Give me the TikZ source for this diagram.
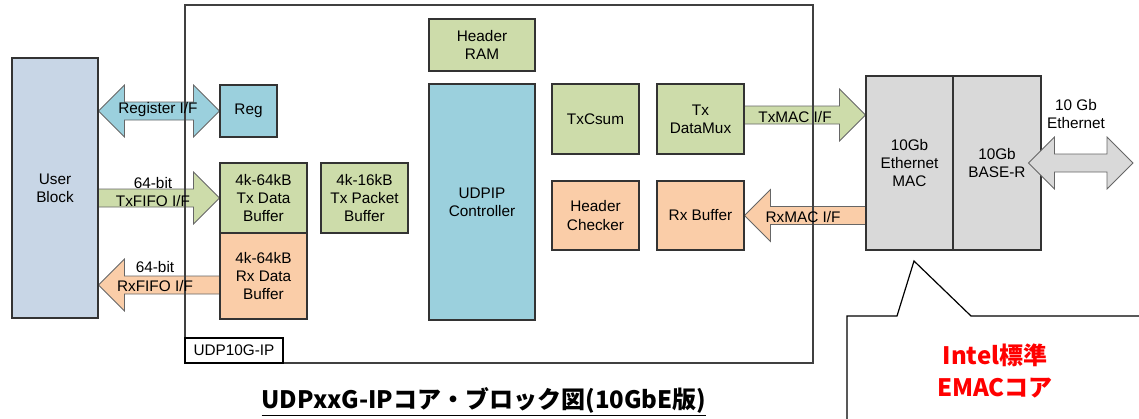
\documentclass[tikz,border=0pt]{standalone}
\usepackage{fontspec}
\setmainfont{Liberation Sans}
\newfontfamily\jpfont{Noto Sans CJK JP}
\usetikzlibrary{calc,backgrounds}

\definecolor{blkgreen}{RGB}{205,220,170}
\definecolor{blkorange}{RGB}{250,205,168}
\definecolor{blkcyan}{RGB}{155,208,221}
\definecolor{blkuser}{RGB}{200,214,230}
\definecolor{blkgray}{RGB}{217,217,217}

\tikzset{
  blk/.style={draw=black!80, line width=0.8pt, align=center, inner sep=0pt,
    font=\fontsize{11.5}{13.75}\selectfont},
  lbl/.style={inner sep=0pt, align=center, font=\fontsize{11.5}{13.75}\selectfont},
  % fat one-headed arrow, start and end on the same level
  fatone/.style={draw=black!60, line width=0.6pt, fill=#1,
    to path={let \p1=(\tikztostart), \p2=(\tikztotarget),
      \n1={ifthenelse(\x2>\x1,1,-1)} in
      -- (\x1,{\y1+6.75pt}) -- ({\x2-\n1*19.5pt},{\y1+6.75pt})
      -- ({\x2-\n1*19.5pt},{\y1+19.5pt}) -- (\x2,\y1)
      -- ({\x2-\n1*19.5pt},{\y1-19.5pt}) -- ({\x2-\n1*19.5pt},{\y1-6.75pt})
      -- (\x1,{\y1-6.75pt}) -- cycle}},
  % fat two-headed arrow
  fattwo/.style={draw=black!60, line width=0.6pt, fill=#1,
    to path={let \p1=(\tikztostart), \p2=(\tikztotarget),
      \n1={ifthenelse(\x2>\x1,1,-1)} in
      -- ({\x1+\n1*19.5pt},{\y1+19.5pt}) -- ({\x1+\n1*19.5pt},{\y1+6.75pt})
      -- ({\x2-\n1*19.5pt},{\y1+6.75pt}) -- ({\x2-\n1*19.5pt},{\y1+19.5pt})
      -- (\x2,\y1)
      -- ({\x2-\n1*19.5pt},{\y1-19.5pt}) -- ({\x2-\n1*19.5pt},{\y1-6.75pt})
      -- ({\x1+\n1*19.5pt},{\y1-6.75pt}) -- ({\x1+\n1*19.5pt},{\y1-19.5pt})
      -- cycle}}
}

\begin{document}
\begin{tikzpicture}[x=0.75pt,y=-0.75pt]
\useasboundingbox (0,0) rectangle (1139,418);

%UDP10G-IP frame
\draw[black!75, line width=1.1pt] (185,5) rectangle (813,363);
\node[blk, draw=black, fill=white, minimum width=73.5pt, minimum height=18.75pt] (iplabel) at (234,350.5) {UDP10G-IP};

%User side
\node[blk, fill=blkuser, minimum width=64.5pt, minimum height=195pt] (user) at (55,188) {User\\Block};
\node[blk, fill=blkcyan, minimum width=42.75pt, minimum height=39pt] (reg) at (248.5,111) {Reg};
\node[blk, fill=blkgreen, minimum width=65.25pt, minimum height=52.5pt] (txbuf) at (263.5,198) {4k-64kB\\Tx Data\\Buffer};
\node[blk, fill=blkorange, minimum width=65.25pt, minimum height=64.5pt] (rxbuf) at (263.5,276) {4k-64kB\\Rx Data\\Buffer};
\node[blk, fill=blkgreen, minimum width=65.25pt, minimum height=52.5pt] (txpkt) at (364.5,198) {4k-16kB\\Tx Packet\\Buffer};

%Controller
\node[blk, fill=blkgreen, minimum width=79.5pt, minimum height=39pt] (hdrram) at (482,45) {Header\\RAM};
\node[blk, fill=blkcyan, minimum width=79.5pt, minimum height=177pt] (udpip) at (482,202) {UDPIP\\Controller};

%MAC side
\node[blk, fill=blkgreen, minimum width=65.25pt, minimum height=52.5pt] (txcsum) at (595.5,119) {TxCsum};
\node[blk, fill=blkgreen, minimum width=65.25pt, minimum height=52.5pt] (txmux) at (700.5,119) {Tx\\DataMux};
\node[blk, fill=blkorange, minimum width=65.25pt, minimum height=51.75pt] (hdrchk) at (595.5,215.5) {Header\\Checker};
\node[blk, fill=blkorange, minimum width=65.25pt, minimum height=51.75pt] (rxbuffer) at (700.5,215.5) {Rx Buffer};
\node[blk, fill=blkgray, minimum width=65.25pt, minimum height=130.5pt] (mac) at (909.5,163) {10Gb\\Ethernet\\MAC};
\node[blk, fill=blkgray, minimum width=66pt, minimum height=130.5pt] (baser) at (997,163) {10Gb\\BASE-R};

%Interfaces
\coordinate (rxlvl) at (0,285);
\coordinate (txmaclvl) at (0,115);
\coordinate (ethend) at (1133,163);
\begin{pgfonlayer}{background}
\draw[fattwo=blkcyan] (user.east |- reg.west) to (reg.west);
\draw[fatone=blkgreen] (user.east |- txbuf.west) to (txbuf.west);
\draw[fatone=blkorange] (rxbuf.west |- rxlvl) to (user.east |- rxlvl);
\draw[fatone=blkgreen] (txmux.east |- txmaclvl) to (mac.west |- txmaclvl);
\draw[fatone=blkorange] (mac.west |- rxbuffer.east) to (rxbuffer.east);
\end{pgfonlayer}
\draw[fattwo=blkgray] ([xshift=-9.75pt]baser.east) to (ethend);

\node[lbl] (regif) at (158,110) {Register I/F};
\node[lbl] (txwidth) at (153,183) {64-bit};
\node[lbl] (txfifo) at (153,201) {TxFIFO I/F};
\node[lbl] (rxwidth) at (155,267) {64-bit};
\node[lbl] (rxfifo) at (155,286) {RxFIFO I/F};
\node[lbl] (txmacif) at (795,117) {TxMAC I/F};
\node[lbl] (rxmacif) at (803,217) {RxMAC I/F};
\node[lbl] (eth) at (1076,114) {10 Gb\\Ethernet};

%Title
\node[inner sep=0pt, anchor=base, font=\jpfont\bfseries\fontsize{18}{21}\selectfont] (title) at (484,408) {\underline{UDPxxG-IPコア・ブロック図(10GbE版)}};

%Callout
\draw[line width=0.9pt] (847,425) -- (847,316) -- (897,316) -- (914,261) -- (971,316) -- (1145,316);
\node[inner sep=0pt, align=center, text=red, font=\jpfont\bfseries\fontsize{18}{24}\selectfont] (emac) at (995,371) {Intel標準\\EMACコア};
\end{tikzpicture}
\end{document}
